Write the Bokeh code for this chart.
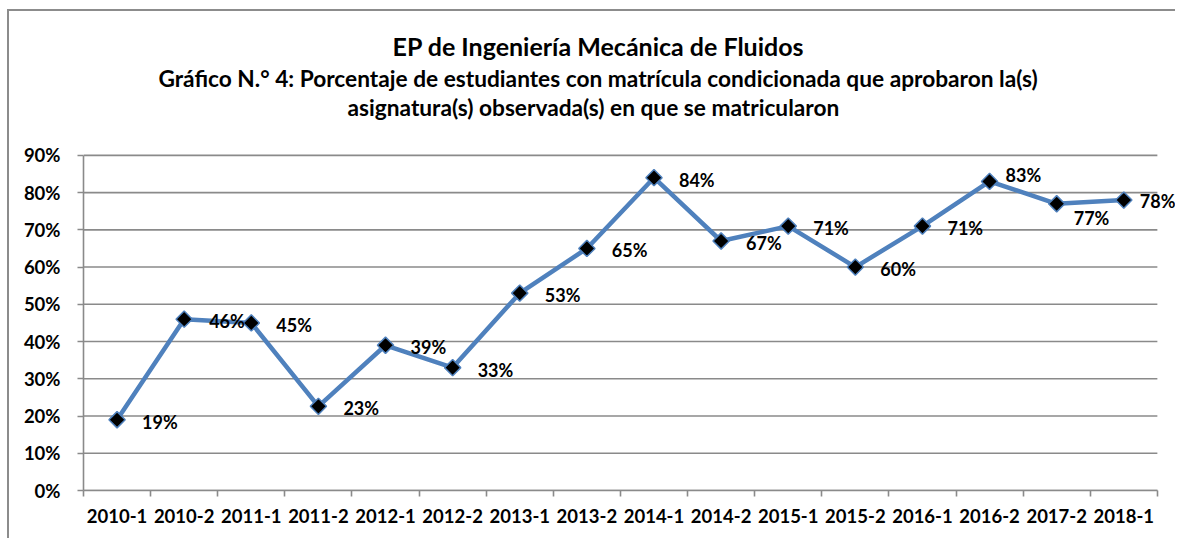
import math
from bokeh.plotting import figure
from bokeh.models import (ColumnDataSource, FixedTicker, Title, LabelSet, Range1d)
from bokeh.core.properties import value
from bokeh.embed import file_html
from bokeh.resources import INLINE

periods = ["2010-1", "2010-2", "2011-1", "2011-2", "2012-1", "2012-2", "2013-1",
           "2013-2", "2014-1", "2014-2", "2015-1", "2015-2", "2016-1", "2016-2",
           "2017-2", "2018-1"]
rates = [0.19, 0.46, 0.45, 0.226, 0.39, 0.33, 0.53, 0.65, 0.84, 0.67, 0.71,
         0.60, 0.71, 0.83, 0.77, 0.78]
rate_labels = ["19%", "46%", "45%", "23%", "39%", "33%", "53%", "65%", "84%",
               "67%", "71%", "60%", "71%", "83%", "77%", "78%"]
y_ticks = [0.0, 0.1, 0.2, 0.3, 0.4, 0.5, 0.6, 0.7, 0.8, 0.9]
y_tick_labels = ["0%", "10%", "20%", "30%", "40%", "50%", "60%", "70%", "80%", "90%"]

title_main = "EP de Ingeniería Mecánica de Fluidos"
title_sub1 = "Gráfico N.° 4: Porcentaje de estudiantes con matrícula condicionada que aprobaron la(s)"
title_sub2 = "asignatura(s) observada(s) en que se matricularon"

# label placement (styling)
label_dx = [25] * 13 + [16, 17, 16]
label_dy = [-2] * 13 + [6, -14, -1]

FONT = "Lato"
BLUE = "#4F81BD"
GRID = "#8A8A8A"

n = len(periods)
xs = [i + 0.5 for i in range(n)]
y_top = y_ticks[-1]
src = ColumnDataSource(dict(x=xs, y=rates, lab=rate_labels, dx=label_dx, dy=label_dy))
grid_src = ColumnDataSource(dict(y=y_ticks))

p = figure(width=1168, height=529, output_backend="svg", toolbar_location=None,
           x_range=Range1d(0, n + 0.3), y_range=Range1d(0, y_top + 0.005),
           min_border_left=74, min_border_right=0, min_border_bottom=50,
           min_border_top=0)
p.background_fill_color = "white"
p.border_fill_color = "white"
p.outline_line_color = None
p.styles = {"margin-left": "7px", "margin-top": "9px",
            "border-top": "2px solid #8C8C8C", "border-left": "2px solid #8C8C8C"}

# titles (first added is nearest the plot)
def spacer(h):
    return Title(text=" ", text_font_size="1px", standoff=h)

p.add_layout(spacer(30), "above")
p.add_layout(Title(text=title_sub2, align="left", offset=264, text_font=FONT,
                   text_font_size="22.7px", text_font_style="bold",
                   text_color="black", standoff=0), "above")
p.add_layout(Title(text=title_sub1, align="left", offset=75, text_font=FONT,
                   text_font_size="22.7px", text_font_style="bold",
                   text_color="black", standoff=0), "above")
p.add_layout(Title(text=title_main, align="left", offset=309, text_font=FONT,
                   text_font_size="25px", text_font_style="bold",
                   text_color="black", standoff=3), "above")
p.add_layout(spacer(13), "above")

# horizontal gridlines limited to the category span
p.xgrid.grid_line_color = None
p.ygrid.grid_line_color = None
p.segment(x0=0, x1=n, y0="y", y1="y", source=grid_src, line_color=GRID, line_width=1.6)

# y axis
p.yaxis.ticker = FixedTicker(ticks=y_ticks)
p.yaxis.bounds = (0, y_top)
p.yaxis.major_label_overrides = {t: l for t, l in zip(y_ticks, y_tick_labels)}
p.yaxis.axis_line_color = GRID
p.yaxis.axis_line_width = 1.6
p.yaxis.major_tick_line_color = GRID
p.yaxis.major_tick_line_width = 1.6
p.yaxis.major_tick_in = 0
p.yaxis.major_tick_out = 6
p.yaxis.minor_tick_line_color = None
p.yaxis.major_label_text_font = FONT
p.yaxis.major_label_text_font_size = "18.5px"
p.yaxis.major_label_text_font_style = "bold"
p.yaxis.major_label_text_color = "black"
p.yaxis.major_label_standoff = 17

# x axis: labels at category centres, ticks on boundaries
p.xaxis.ticker = FixedTicker(ticks=xs, minor_ticks=list(range(n + 1)))
p.xaxis.bounds = (0, n)
p.xaxis.major_label_overrides = {x: lab for x, lab in zip(xs, periods)}
p.xaxis.axis_line_color = GRID
p.xaxis.axis_line_width = 1.6
p.xaxis.major_tick_line_color = None
p.xaxis.major_tick_in = 0
p.xaxis.major_tick_out = 0
p.xaxis.minor_tick_line_color = GRID
p.xaxis.minor_tick_line_width = 1.6
p.xaxis.minor_tick_in = 0
p.xaxis.minor_tick_out = 6
p.xaxis.major_label_text_font = FONT
p.xaxis.major_label_text_font_size = "18.5px"
p.xaxis.major_label_text_font_style = "bold"
p.xaxis.major_label_text_color = "black"
p.xaxis.major_label_standoff = 12

# series
p.line("x", "y", source=src, line_color=BLUE, line_width=4.5)
p.scatter("x", "y", source=src, marker="square", size=11.5, angle=math.pi / 4,
          fill_color="black", line_color=BLUE, line_width=1.5)

labels = LabelSet(x="x", y="y", text="lab", source=src, x_offset="dx", y_offset="dy",
                  text_font=value(FONT), text_font_size="18px", text_font_style="bold",
                  text_color="black", text_align="left", text_baseline="middle")
p.add_layout(labels)

open("out.html", "w").write(file_html(p, INLINE))
